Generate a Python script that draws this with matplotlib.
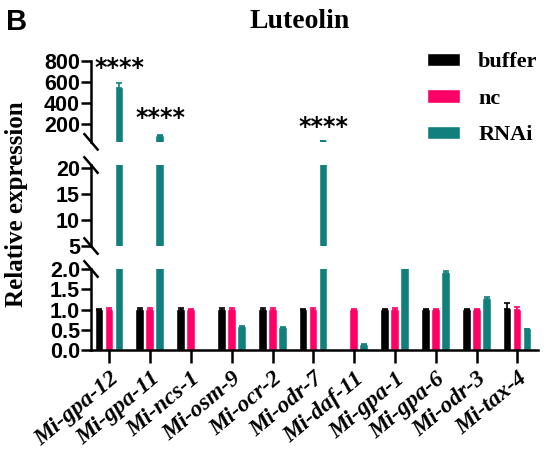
import numpy as np
import matplotlib
matplotlib.use("Agg")
import matplotlib.pyplot as plt
from matplotlib.patches import Patch

genes = ['Mi-gpa-12', 'Mi-gpa-11', 'Mi-ncs-1', 'Mi-osm-9', 'Mi-ocr-2', 'Mi-odr-7',
         'Mi-daf-11', 'Mi-gpa-1', 'Mi-gpa-6', 'Mi-odr-3', 'Mi-tax-4']
buffer_vals = [1.0, 1.0, 1.0, 1.0, 1.0, 1.0, np.nan, 1.0, 1.0, 1.0, 1.02]
buffer_err = [0.02, 0.04, 0.04, 0.03, 0.04, 0.01, 0.0, 0.02, 0.02, 0.01, 0.14]
nc_vals = [1.0, 1.0, 1.0, 1.0, 1.0, 1.0, 1.0, 1.0, 1.0, 1.0, 1.0]
nc_err = [0.04, 0.03, 0.02, 0.03, 0.04, 0.03, 0.02, 0.04, 0.02, 0.02, 0.06]
rnai_vals = [545.0, 88.0, np.nan, 0.58, 0.55, 40.0, 0.12, 3.0, 1.90, 1.27, 0.52]
rnai_err = [45.0, 6.0, 0.0, 0.02, 0.01, 2.0, 0.02, 0.05, 0.05, 0.04, 0.01]
stars = {0: 730, 1: 255, 5: 170}

colors = ['#000000', '#FF0066', '#11807C']
labels = ['buffer', 'nc', 'RNAi']
serif = 'Liberation Serif'
sans = 'Liberation Sans'

fig = plt.figure(figsize=(5.5, 4.59), dpi=100)
left, right = 0.1655, 0.978
ax_top = fig.add_axes([left, 0.691, right - left, 0.176])
ax_mid = fig.add_axes([left, 0.464, right - left, 0.176])
ax_bot = fig.add_axes([left, 0.2375, right - left, 0.176])
axes = [ax_top, ax_mid, ax_bot]

x = np.arange(len(genes))
w = 0.19
step = 0.245
series = [(buffer_vals, buffer_err), (nc_vals, nc_err), (rnai_vals, rnai_err)]

for ax in axes:
    for i, (vals, errs) in enumerate(series):
        pos = x + (i - 1) * step
        ax.bar(pos, vals, width=w, color=colors[i], edgecolor='white', linewidth=0.3, zorder=2)
        ax.errorbar(pos, vals, yerr=[np.zeros(len(errs)), errs], fmt='none',
                    ecolor=colors[i], elinewidth=1.2, capsize=2.5, capthick=1.2, zorder=3)
    ax.set_xlim(-0.45, 10.5)
    for s in ['top', 'right']:
        ax.spines[s].set_visible(False)
    ax.spines['left'].set_linewidth(1.8)
    ax.spines['bottom'].set_linewidth(1.8)
    ax.tick_params(axis='y', width=1.8, length=7, pad=1)

ax_top.set_ylim(30, 800)
ax_top.set_yticks([200, 400, 600, 800])
ax_mid.set_ylim(5, 20.5)
ax_mid.set_yticks([5, 10, 15, 20])
ax_bot.set_ylim(0, 2.0)
ax_bot.set_yticks([0.0, 0.5, 1.0, 1.5, 2.0])
ax_bot.set_yticklabels(['0.0', '0.5', '1.0', '1.5', '2.0'])

for ax in axes:
    for t in ax.get_yticklabels():
        t.set_fontfamily(sans)
        t.set_fontweight('bold')
        t.set_fontsize(15.5)

for ax in [ax_top, ax_mid]:
    ax.spines['bottom'].set_visible(False)
    ax.set_xticks([])

ax_bot.set_xticks(x)
ax_bot.set_xticklabels(genes, rotation=40, ha='right', rotation_mode='anchor',
                       fontfamily=serif, fontweight='bold', fontstyle='italic', fontsize=17)
ax_bot.tick_params(axis='x', width=1.8, length=9, pad=4)

# break marks on the y spine
d = 0.012
kw = dict(transform=fig.transFigure, color='black', lw=1.8, clip_on=False)
for yb in [0.691, 0.6405, 0.464, 0.414]:
    fig.add_artist(plt.Line2D([left - d, left + d], [yb + 1.4 * d, yb - 1.4 * d], **kw))

for idx, yv in stars.items():
    ax_top.text(x[idx] + step, yv, '****', ha='center', va='center', fontsize=17,
                fontweight='bold', fontfamily='DejaVu Sans')

fig.text(0.545, 0.954, 'Luteolin', ha='center', va='center', fontsize=20,
         fontfamily=serif, fontweight='bold')
fig.text(0.03, 0.952, 'B', ha='center', va='center', fontsize=21,
         fontfamily=sans, fontweight='bold')
fig.text(0.03, 0.555, 'Relative expression', rotation=90, ha='center', va='center',
         fontsize=18, fontfamily=serif, fontweight='bold')

handles = [Patch(facecolor=c, edgecolor='white') for c in colors]
fig.legend(handles, labels, loc='upper left', bbox_to_anchor=(0.74, 0.93),
           frameon=False, handlelength=1.5, handleheight=0.55, labelspacing=0.75,
           handletextpad=0.8, prop={'family': serif, 'weight': 'bold', 'size': 16})

plt.savefig('out.png', dpi=100)
